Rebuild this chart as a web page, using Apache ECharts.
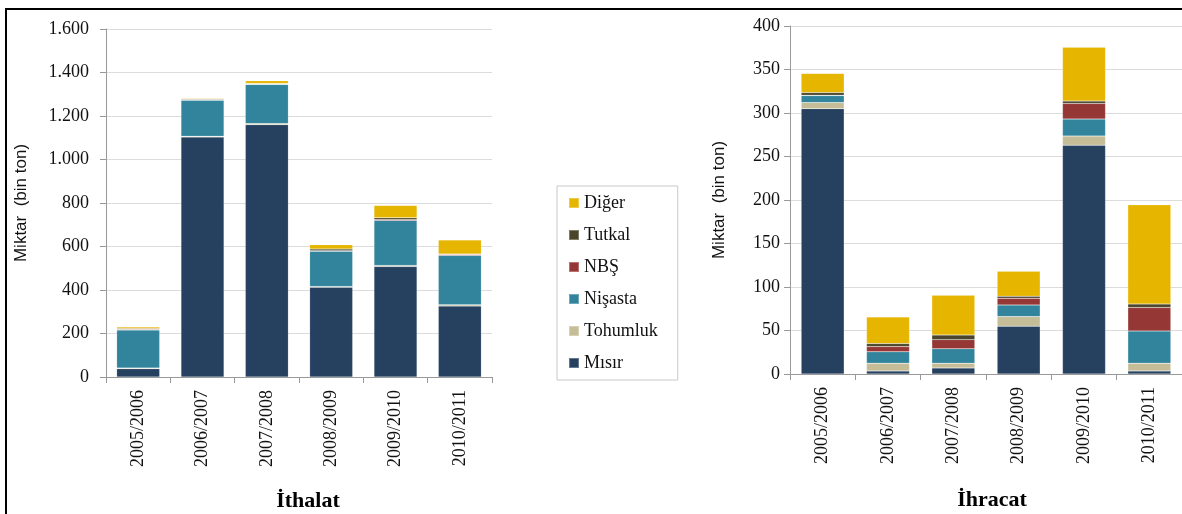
<!DOCTYPE html>
<html>
<head>
<meta charset="utf-8">
<script src="https://cdn.jsdelivr.net/npm/echarts@6/dist/echarts.min.js"></script>
<style>
html,body{margin:0;padding:0;background:#fff}
#main{width:1182px;height:514px}
#frame{position:absolute;left:5px;top:8px;width:1177px;height:506px;border-top:2px solid #000;border-left:2px solid #000;pointer-events:none}
</style>
</head>
<body>
<div id="main"></div>
<div id="frame"></div>
<script>
// yillar
var years = ['2005/2006','2006/2007','2007/2008','2008/2009','2009/2010','2010/2011']
var names = ['Mısır','Tohumluk','Nişasta','NBŞ','Tutkal','Diğer']
var colors = ['#26405f','#c4bd97','#31849b','#953735','#4a452a','#e6b500']

// ithalat (bin ton)
var imMisir    = [38, 1103, 1160, 413, 508, 326]
var imTohumluk = [3, 4, 5, 3, 5, 6]
var imNisasta  = [175, 165, 180, 162, 207, 227]
var imNBS      = [3, 3, 2, 3, 4, 4]
var imTutkal   = [4, 3, 3, 7, 8, 2]
var imDiger    = [7, 4, 12, 20, 57, 65]

// ihracat (bin ton)
var exMisir    = [305, 3.5, 7, 55, 263, 3.5]
var exTohumluk = [7, 9, 5.5, 11, 10.5, 9]
var exNisasta  = [8, 13, 16.5, 13.4, 19.5, 37]
var exNBS      = [0.5, 6, 10.5, 7.7, 18, 27]
var exTutkal   = [3, 3.5, 5.3, 2.3, 2.7, 4]
var exDiger    = [22, 30.5, 45.6, 28.7, 62, 114]

var imData = [imMisir, imTohumluk, imNisasta, imNBS, imTutkal, imDiger]
var exData = [exMisir, exTohumluk, exNisasta, exNBS, exTutkal, exDiger]

var serif = 'Liberation Serif, DejaVu Serif, serif'

function fmt(v){
	if(v>=1000){
		var s=String(v)
		return s.slice(0,s.length-3)+'.'+s.slice(s.length-3)
	}
	return String(v)
}

function xAx(idx){
	return {
		type:'category', gridIndex:idx, data:years,
		axisLine:{lineStyle:{color:'#999',width:1}},
		axisTick:{show:true,length:6,lineStyle:{color:'#999'}},
		axisLabel:{rotate:90,margin:13,fontSize:18,fontFamily:serif,color:'#111'}
	}
}
function yAx(idx,max,interval,gap,margin){
	return {
		type:'value', gridIndex:idx, min:0, max:max, interval:interval,
		name:'Miktar  (bin ton)', nameLocation:'middle', nameGap:gap, nameRotate:90,
		nameTextStyle:{fontSize:17,fontFamily:'Liberation Sans Narrow, Liberation Sans, sans-serif',color:'#111'},
		axisLine:{show:true,lineStyle:{color:'#999'}},
		axisTick:{show:true,length:6,lineStyle:{color:'#999'}},
		splitLine:{lineStyle:{color:'#dcdcdc'}},
		axisLabel:{fontSize:18,fontFamily:serif,color:'#111',margin:margin,formatter:fmt}
	}
}

var series=[]
for(var i=0;i<names.length;i++){
	series.push({
		name:names[i], type:'bar', stack:'im', xAxisIndex:0, yAxisIndex:0,
		data:imData[i], barWidth:43,
		itemStyle:{color:colors[i],borderColor:'rgba(255,255,255,0.3)',borderWidth:0.5}
	})
	series.push({
		name:names[i], type:'bar', stack:'ex', xAxisIndex:1, yAxisIndex:1,
		data:exData[i], barWidth:43,
		itemStyle:{color:colors[i],borderColor:'rgba(255,255,255,0.3)',borderWidth:0.5}
	})
}

var myChart = echarts.init(document.getElementById('main'))
myChart.setOption({
	animation:false,
	color:colors,
	grid:[
		{left:106,top:29,width:386,height:348},
		{left:790,top:26,width:392,height:348}
	],
	xAxis:[xAx(0),xAx(1)],
	yAxis:[yAx(0,1600,200,76,17),yAx(1,400,50,62,10)],
	legend:{
		orient:'vertical', left:557, top:186,
		data:['Diğer','Tutkal','NBŞ','Nişasta','Tohumluk','Mısır'],
		itemWidth:10, itemHeight:10, itemGap:14,
		icon:'rect',
		padding:[8,20,8,11],
		borderColor:'#c8c8c8', borderWidth:1,
		textStyle:{fontSize:18,fontFamily:serif,color:'#111'}
	},
	title:[
		{text:'İthalat',left:303,top:485,textAlign:'center',textStyle:{fontSize:22,fontWeight:'bold',fontFamily:serif,color:'#000'}},
		{text:'İhracat',left:987,top:484,textAlign:'center',textStyle:{fontSize:22,fontWeight:'bold',fontFamily:serif,color:'#000'}}
	],
	series:series
})
</script>
</body>
</html>
